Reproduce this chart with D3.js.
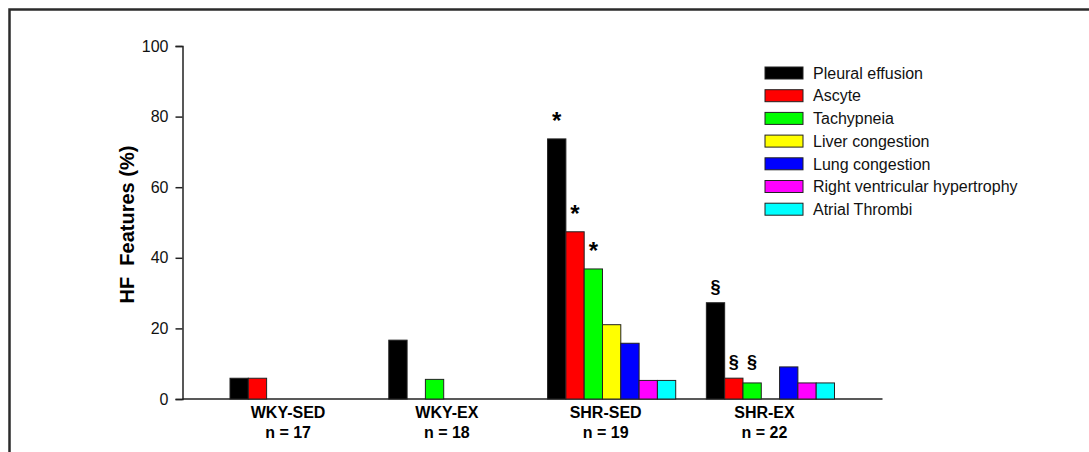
<!DOCTYPE html>
<html>
<head>
<meta charset="utf-8">
<script src="https://cdn.jsdelivr.net/npm/d3@7"></script>
<style>
    body { margin: 0; background: #fff; }
    svg { display: block; font-family: Arial, "Liberation Sans", sans-serif; }
</style>
</head>
<body>
<div class="hf_chart"></div>
<script>
// data
const groups = ["WKY-SED", "WKY-EX", "SHR-SED", "SHR-EX"];
const group_n = ["n = 17", "n = 18", "n = 19", "n = 22"];
const features = ["Pleural effusion", "Ascyte", "Tachypneia", "Liver congestion",
    "Lung congestion", "Right ventricular hypertrophy", "Atrial Thrombi"];
const feature_colors = ["#000000", "#ff0000", "#00ff00", "#ffff00", "#0000ff", "#ff00ff", "#00ffff"];

// % per group, in feature order
const wky_sed = [5.88, 5.88, 0, 0, 0, 0, 0];
const wky_ex = [16.67, 0, 5.56, 0, 0, 0, 0];
const shr_sed = [73.68, 47.37, 36.84, 21.05, 15.79, 5.26, 5.26];
const shr_ex = [27.27, 5.9, 4.55, 0, 9.09, 4.55, 4.55];
const values = [wky_sed, wky_ex, shr_sed, shr_ex];

const y_ticks = [0, 20, 40, 60, 80, 100];

// significance marks: ref = feature whose bar height sets the level
const marks = [
    { group: "SHR-SED", feature: "Pleural effusion", ref: "Pleural effusion", sym: "*" },
    { group: "SHR-SED", feature: "Ascyte", ref: "Ascyte", sym: "*" },
    { group: "SHR-SED", feature: "Tachypneia", ref: "Tachypneia", sym: "*" },
    { group: "SHR-EX", feature: "Pleural effusion", ref: "Pleural effusion", sym: "§" },
    { group: "SHR-EX", feature: "Ascyte", ref: "Ascyte", sym: "§" },
    { group: "SHR-EX", feature: "Tachypneia", ref: "Ascyte", sym: "§" }
];

const render_hf_features = (name, config) => {
    let svg = d3.select(`.${name}`).append('svg')
        .attr("width", config.width)
        .attr("height", config.height);

    // figure frame (top + left edges only are visible)
    svg.append("path")
        .attr("d", `M9.5,${config.height} V9.5 H${config.width}`)
        .attr("fill", "none")
        .attr("stroke", "#2b2b2b")
        .attr("stroke-width", 2.5);

    const y = d3.scaleLinear().domain([0, 100]).range([399, 46]);

    const x0 = d3.scaleBand()
        .domain(groups)
        .range([230, 834.5])
        .paddingInner(0.193)
        .paddingOuter(0);
    const x1 = d3.scaleBand()
        .domain(features)
        .range([0, x0.bandwidth()])
        .padding(0);

    // y axis
    svg.append("g")
        .attr("transform", "translate(182.5,0)")
        .call(d3.axisLeft(y).tickValues(y_ticks).tickSize(7).tickPadding(7))
        .call(g => g.selectAll("line, path").attr("stroke", "#222").attr("stroke-width", 1.5))
        .call(g => g.selectAll("text").attr("font-size", 16).attr("fill", "#111")
            .attr("font-family", 'Arial, "Liberation Sans", sans-serif'));

    // x axis line
    svg.append("line")
        .attr("x1", 182.5).attr("x2", 882.5)
        .attr("y1", y(0)).attr("y2", y(0))
        .attr("stroke", "#222")
        .attr("stroke-width", 1.5);

    // y title
    svg.append("text")
        .attr("transform", `translate(134,${(y(0) + y(100)) / 2 + 2}) rotate(-90)`)
        .attr("text-anchor", "middle")
        .attr("font-size", 20)
        .attr("font-weight", "bold")
        .attr("xml:space", "preserve")
        .text("HF  Features (%)");

    // bars
    let rows = [];
    groups.forEach((g, gi) => features.forEach((f, fi) => {
        if (values[gi][fi] > 0) rows.push({ group: g, feature: f, value: values[gi][fi], color: feature_colors[fi] });
    }));

    svg.append("g")
        .selectAll("rect")
        .data(rows)
        .join("rect")
            .attr("x", d => x0(d.group) + x1(d.feature))
            .attr("y", d => y(d.value))
            .attr("width", x1.bandwidth())
            .attr("height", d => y(0) - y(d.value))
            .attr("fill", d => d.color)
            .attr("stroke", "#222")
            .attr("stroke-width", 1);

    // group labels
    let lab = svg.append("g")
        .selectAll("text")
        .data(groups)
        .join("text")
            .attr("x", d => x0(d) + x0.bandwidth() / 2 - 6)
            .attr("y", 418)
            .attr("text-anchor", "middle")
            .attr("font-size", 16)
            .attr("font-weight", "bold");
    lab.append("tspan").text(d => d);
    lab.append("tspan")
        .attr("x", d => x0(d) + x0.bandwidth() / 2 - 6)
        .attr("dy", 20)
        .text((d, i) => group_n[i]);

    // significance marks
    const val_of = (g, f) => values[groups.indexOf(g)][features.indexOf(f)];
    svg.append("g")
        .selectAll("text")
        .data(marks)
        .join("text")
            .attr("x", d => x0(d.group) + x1(d.feature) + x1.bandwidth() / 2)
            .attr("y", d => y(val_of(d.group, d.ref)) - (d.sym == "*" ? -1 : 10))
            .attr("text-anchor", "middle")
            .attr("font-size", d => d.sym == "*" ? 24 : 18)
            .attr("font-weight", "bold")
            .attr("dy", d => d.sym == "*" ? "-0.45em" : 0)
            .text(d => d.sym);

    // legend
    let legend = svg.append("g")
        .selectAll("g")
        .data(features)
        .join("g")
            .attr("transform", (d, i) => `translate(765,${67 + i * 22.7})`);
    legend.append("rect")
        .attr("width", 38)
        .attr("height", 12)
        .attr("fill", (d, i) => feature_colors[i])
        .attr("stroke", "#222")
        .attr("stroke-width", 1);
    legend.append("text")
        .attr("x", 48)
        .attr("y", 6)
        .attr("dy", "0.36em")
        .attr("font-size", 16)
        .attr("fill", "#111")
        .text(d => d);
};

render_hf_features("hf_chart", { width: 1089, height: 452 });
</script>
</body>
</html>
